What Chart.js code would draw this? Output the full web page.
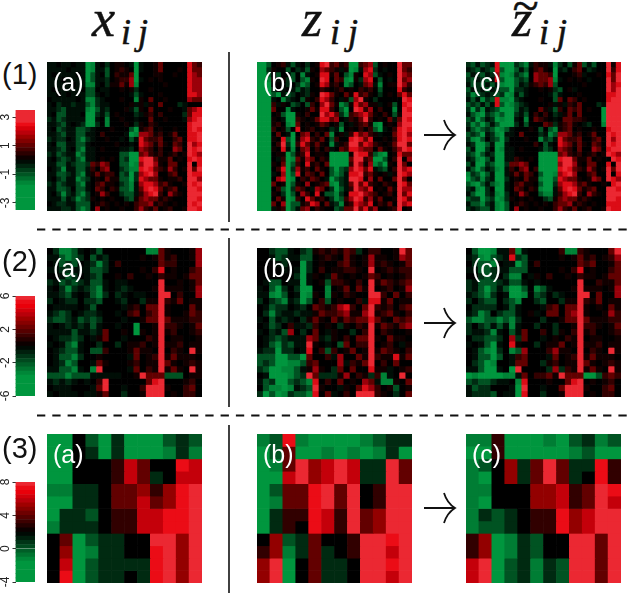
<!DOCTYPE html>
<html>
<head>
<meta charset="utf-8">
<style>
  body { margin: 0; background: #fff; }
  #page { position: relative; width: 633px; height: 597px; overflow: hidden; }
  #page canvas, #page svg { position: absolute; }
  .txt { position: absolute; line-height: 1; white-space: pre; }
  .math { font-family: "Liberation Serif", serif; font-style: italic; color: #111; -webkit-text-stroke: 0.5px #111; }
  .tag { font-family: "Liberation Sans", sans-serif; font-size: 25px; color: #fff; }
  .num { font-family: "Liberation Sans", sans-serif; font-size: 29px; color: #111; }
</style>
<script src="https://cdn.jsdelivr.net/npm/chart.js@4"></script>
</head>
<body>
<div id="page"></div>
<script>
// row 1 values are stored in half units, so 6 means 3 on the colour bar
const x1 = [
[-1,-1,0,-1,-1,0,-1,-1,-5,-4,-1,0,-2,0,1,1,0,-1,-5,-1,0,0,1,3,0,0,0,0,0,5,3,2],
[-1,-1,-1,-1,0,-1,-1,-1,-5,-4,-1,-1,-3,0,1,2,1,0,-5,-1,0,0,1,3,0,0,0,1,0,5,3,3],
[-1,0,-1,-1,-1,-1,0,-1,-5,-3,-1,0,-3,0,2,1,1,3,-5,0,0,0,1,1,0,0,1,0,0,5,4,3],
[-1,-1,-1,0,-1,-1,-1,-1,-5,-3,-1,-1,-2,0,1,2,2,4,-5,-1,0,1,0,1,0,0,0,0,0,5,4,4],
[-1,-1,-1,-1,-1,0,-1,-1,-4,-4,-1,0,-2,1,1,3,1,4,-4,0,0,0,0,0,1,0,0,0,0,5,4,4],
[-1,0,-1,-1,-1,-1,-1,0,-3,-3,0,-1,-1,0,0,1,0,1,-2,0,0,1,0,0,0,0,0,0,0,5,4,4],
[-1,-1,0,-1,0,-1,-1,-1,-3,-3,-1,0,-1,0,0,0,0,-1,-3,-1,0,0,0,1,0,0,0,0,0,5,5,4],
[0,-1,-1,-1,-1,-1,0,-1,-4,-4,-2,-1,0,0,0,1,0,0,-4,1,0,3,0,0,1,0,0,0,0,4,3,3],
[-1,0,-2,-1,-1,-2,-1,-1,-3,-4,-2,-1,-1,0,0,0,0,1,-1,1,-1,1,0,3,0,0,0,-2,-1,0,0,0],
[-1,-1,-2,-3,-1,-1,-1,-1,-4,-5,-3,-1,-2,0,0,0,1,-1,-3,1,0,3,0,0,0,1,0,0,-1,3,4,5],
[-1,0,-3,-3,-1,-1,-1,0,-5,-5,-2,-1,-3,0,1,0,0,0,-2,-1,1,2,0,2,0,0,0,0,-2,3,5,5],
[-2,-1,-3,-2,-1,-1,-1,-1,-5,-5,-1,0,-4,0,0,1,0,0,-1,0,0,3,0,0,1,0,0,0,-1,4,5,6],
[-1,-1,-2,-3,-1,0,-1,-2,-5,-5,-2,0,-4,0,0,0,1,0,-2,1,0,2,1,0,0,0,0,0,0,5,6,6],
[-1,0,-3,-2,-1,-1,-3,-3,-2,-1,0,0,0,1,0,0,0,-3,-5,1,2,3,0,1,0,0,1,0,0,5,6,5],
[-1,-1,-2,-3,-1,-1,-3,-3,-1,-1,0,2,0,0,0,0,-1,-5,-4,4,4,3,1,2,0,1,3,0,0,5,5,6],
[-2,-1,-2,-2,0,-1,-3,-4,-2,-1,0,0,1,0,0,-1,0,-3,-1,5,3,2,2,3,0,0,2,3,0,5,5,6],
[-1,0,-3,-3,-1,-1,-3,-3,-1,0,0,0,0,0,1,0,0,-1,0,5,4,3,1,3,1,0,3,2,0,6,4,5],
[-1,-1,-2,-3,-1,0,-3,-4,-1,-1,0,1,0,0,0,-1,-1,-2,0,4,3,2,0,2,0,0,4,3,0,6,5,6],
[-2,-1,-3,-2,-1,-1,-4,-3,-1,-1,0,0,0,0,0,-3,-3,-5,-5,3,4,2,1,2,0,1,2,0,1,6,5,4],
[-1,0,-2,-3,-2,-1,-3,-4,-1,-1,0,1,0,1,0,-3,-2,-5,-5,5,6,6,3,1,1,3,0,1,0,5,6,5],
[-1,-1,-3,-3,-1,-2,-3,-3,-2,3,2,4,3,0,0,-3,-3,-5,-4,4,6,6,4,1,0,3,3,0,0,6,0,5],
[0,-1,-2,-4,-1,-1,-3,-3,-1,2,0,3,4,0,0,-2,-3,-4,-4,5,6,5,3,2,1,4,2,0,1,6,3,6],
[-1,-1,-3,-3,-2,-1,-3,-4,-1,1,3,1,2,2,0,-3,-2,-5,-2,4,5,6,4,0,0,2,3,0,0,6,5,5],
[-1,0,-2,-3,-1,-1,-4,-3,-2,0,1,0,3,1,1,-3,-3,-5,-2,5,4,3,3,1,0,1,1,2,0,6,6,4],
[-2,-1,-3,-2,-1,-1,-3,-4,-1,0,2,3,1,1,0,-2,-3,-4,-1,4,5,5,4,2,3,1,0,0,1,6,5,6],
[-1,-1,-3,-3,-2,0,-3,-3,-1,0,3,2,0,2,1,-3,-3,-4,-1,3,5,6,5,3,1,2,3,0,0,6,6,5],
[-1,0,-2,-4,-2,-1,-3,-4,-2,0,1,4,2,0,0,-2,-3,-3,-1,2,4,5,6,2,0,4,2,1,0,6,6,6],
[-1,-1,-1,-3,-1,-2,-4,-3,-2,1,0,1,0,1,0,0,-2,-3,1,3,4,3,3,1,2,1,0,0,0,6,6,5],
[0,-1,-2,-2,-1,-1,-3,-3,-3,0,1,2,1,0,1,0,1,0,2,3,3,4,1,2,1,0,1,0,0,6,5,6],
[-1,-1,-1,-2,-2,-1,-3,-4,-3,0,4,0,1,0,0,1,0,0,2,4,2,1,3,0,1,2,0,0,1,6,6,5]
];
const z1 = [
[-6,-6,-3,0,1,2,-1,-3,-1,0,-2,0,1,5,6,2,3,1,2,-5,-5,2,3,4,-3,0,1,0,0,6,3,3],
[-6,-6,-2,1,0,0,-3,0,-2,-1,-3,1,0,4,3,2,1,-1,1,-5,-4,-1,4,5,-2,0,-1,0,0,6,3,2],
[-6,-6,-3,0,-3,0,0,-3,0,-4,-1,0,1,5,5,1,3,0,-3,-4,1,0,5,4,-3,-1,0,1,0,6,4,3],
[-6,-6,-4,1,-1,1,-2,-3,0,-3,-4,1,0,6,5,0,3,2,-4,-5,1,-2,4,5,0,-3,0,-1,0,6,3,4],
[-6,-6,-5,0,0,0,-2,0,-2,-4,-3,0,1,5,4,1,2,0,-4,-3,0,-1,3,4,-1,-4,0,1,1,6,4,2],
[-6,-6,-6,-2,0,-1,0,-1,-3,-1,-2,0,0,2,1,0,1,2,0,1,0,2,1,2,0,-3,0,0,0,5,2,1],
[-6,-6,-6,-3,-5,-1,-3,-2,0,-1,-2,1,0,6,5,3,1,0,3,1,5,2,3,1,0,-2,0,1,0,3,5,3],
[-6,-6,-5,-1,0,-4,-2,-1,0,-3,1,0,2,5,4,2,0,-1,1,-3,4,6,1,0,-2,0,0,0,0,0,6,5],
[-6,-6,-5,2,-1,1,0,-3,-2,0,-3,2,0,4,6,3,1,-4,-3,1,5,3,4,1,1,-1,0,1,-3,0,5,6],
[-6,-6,-6,3,0,0,-4,-1,0,0,1,3,1,5,5,2,0,-3,-5,0,6,5,2,4,0,2,0,0,-4,0,6,5],
[-6,-6,-6,0,1,-3,-5,-5,1,0,2,0,0,6,4,5,3,-2,-4,2,3,4,5,3,1,0,2,0,-3,1,6,6],
[-6,-6,-6,1,0,-1,-6,-5,2,1,0,1,3,5,5,3,4,0,-1,2,1,3,6,2,0,1,0,3,-1,3,6,5],
[-6,-6,-6,1,2,0,-4,-5,3,0,1,0,1,3,2,0,1,-3,0,-1,1,2,3,1,-4,-5,0,1,0,4,6,6],
[-5,-6,-6,2,0,1,-3,0,5,0,1,2,0,1,0,-2,-1,-4,0,1,0,2,0,2,-3,-5,-1,0,2,5,6,5],
[-6,-5,-6,0,3,0,-1,-5,0,3,4,0,2,0,3,-4,0,1,-1,2,5,3,4,2,1,-1,0,0,3,5,6,4],
[-6,-6,-6,1,0,5,-3,-5,1,4,5,2,1,3,0,-3,2,0,0,5,6,5,3,5,0,0,1,0,2,5,6,5],
[-5,-6,-6,0,2,6,-2,-5,2,5,3,1,3,1,0,-4,-1,1,2,6,6,3,5,4,2,1,0,1,3,6,6,3],
[-6,-6,-5,1,0,5,-1,-4,0,3,4,0,2,0,2,-1,0,3,2,5,5,4,3,3,0,3,1,0,2,4,6,5],
[-6,-6,-6,0,1,1,-6,-3,1,2,5,0,1,1,0,-6,-6,-6,-6,1,6,5,5,2,-3,-4,-5,0,1,5,3,3],
[-6,-6,-6,0,-1,2,-6,-4,3,1,4,3,0,2,1,-5,-6,-6,-5,3,6,6,2,3,-5,-6,-3,0,2,6,0,4],
[-6,-5,-6,1,0,3,-6,-3,2,0,5,1,2,0,3,-6,-5,-6,-6,2,6,4,1,4,-4,-3,-5,1,0,6,3,0],
[-6,-6,-6,0,2,5,-6,-2,4,1,2,0,3,1,0,-3,-5,-3,-2,4,6,5,3,5,-1,-2,-3,0,2,6,4,5],
[-5,-6,-6,-1,0,4,-6,-3,5,0,3,2,0,3,0,-3,-4,-3,-1,5,5,6,2,3,1,0,1,-1,1,6,5,4],
[-6,-6,-5,0,4,5,-6,-4,0,2,1,3,2,0,-1,-5,-3,-2,-1,6,6,5,1,4,0,3,0,0,3,6,3,0],
[-6,-6,-6,3,0,1,-6,-3,1,0,4,0,1,2,3,-4,-5,-2,-1,3,6,3,5,2,1,0,2,1,0,6,5,3],
[-6,-5,-6,0,2,-3,-6,-2,3,2,0,-1,4,3,0,-2,-5,-3,-1,2,6,4,3,5,0,1,0,3,1,6,4,4],
[-6,-6,-6,1,0,-2,-6,-3,0,4,2,0,5,0,-3,-3,-4,-2,0,5,5,6,4,3,2,0,1,2,0,6,3,5],
[-6,-6,-5,0,3,1,-6,-4,2,0,5,3,1,2,0,-2,-4,-3,2,4,6,5,2,4,1,3,0,0,1,6,5,3],
[-5,-6,-6,3,0,4,-6,-3,-3,1,2,5,4,0,3,-1,-2,-4,1,2,5,4,3,5,0,2,1,3,0,6,4,5],
[-6,-6,-6,-1,1,2,-6,-3,-1,3,4,0,2,1,0,0,-3,-2,3,3,6,3,5,2,4,0,0,1,2,6,0,1]
];
const zt1 = [
[-2,-3,-1,-3,-2,-1,5,-5,-5,-5,-2,-3,-4,-1,2,1,1,-1,-4,-2,0,-3,1,3,-3,-1,-3,0,0,6,1,5],
[-1,-2,-3,-1,-2,-3,5,-3,-6,-5,-3,-1,-3,0,2,3,1,0,-5,-1,-2,0,2,3,0,-2,-1,0,0,6,2,5],
[-3,-1,-2,-3,-1,-2,4,-4,-6,-4,-2,-3,-4,0,4,3,3,2,-5,0,0,0,1,2,-1,0,0,1,0,5,3,6],
[-2,-3,-1,-2,-3,-1,5,-3,-6,-5,-3,-2,-3,0,4,3,3,4,-4,-1,0,1,0,1,0,-1,0,0,0,6,3,6],
[-1,-3,-2,-3,-1,-3,-1,-4,-5,-6,-3,-1,-2,1,2,3,2,4,-3,0,0,0,0,0,1,0,0,0,0,6,4,5],
[-3,-1,-2,-1,-3,-1,-2,-3,-3,-5,-2,-2,-1,0,0,1,0,1,-2,-3,0,1,-1,0,0,0,0,0,0,6,4,6],
[-2,-4,-3,-2,-1,-2,-3,-2,-5,-4,-1,-3,-1,0,0,0,0,-1,-3,-1,0,0,0,1,0,0,0,0,0,5,5,6],
[-1,-3,-1,-4,-2,-3,5,-4,-4,-5,-2,-1,0,0,0,1,0,0,-3,3,0,3,2,0,1,0,0,0,0,5,6,6],
[-3,-2,-3,-1,-3,-1,5,-3,-5,-4,-3,-2,-1,0,0,0,0,1,-1,1,-1,2,1,3,0,0,0,-2,-1,6,6,6],
[-2,-5,-2,-4,-1,-2,-3,-5,-5,-6,-3,-1,-2,0,0,3,1,-1,-3,2,0,3,2,3,0,1,0,0,-5,6,6,6],
[-1,-3,-4,-5,-2,-3,-4,-3,-6,-6,-2,-1,-3,0,2,0,2,0,-2,-1,1,3,0,3,0,0,0,0,-5,6,6,6],
[-3,-2,-5,-3,-1,-2,-5,-4,-5,-6,-1,0,-4,0,3,2,1,0,-1,0,3,3,2,2,1,0,0,0,-5,6,6,6],
[-2,-4,-3,-5,-3,-1,-3,-5,-6,-5,-2,0,-3,0,0,0,3,2,-2,1,2,3,1,0,-1,-2,0,0,-4,6,6,6],
[-1,-3,-4,-3,-2,-3,-5,-4,-3,-1,0,0,0,1,0,-3,0,-3,-4,1,2,3,0,1,0,0,1,0,0,5,6,6],
[-3,-2,-3,-5,-1,-2,-4,-5,-1,-1,0,3,0,0,0,-2,-1,-4,-3,4,4,3,1,2,0,1,3,0,0,6,5,6],
[-2,-4,-5,-3,0,-2,-3,-6,-2,0,0,0,1,0,0,-4,-2,-3,-1,5,3,2,2,3,0,0,2,3,0,6,4,6],
[-1,-2,-6,-5,-3,-1,-5,-5,-1,0,0,0,0,0,2,0,-3,-1,0,5,4,3,1,3,1,0,3,2,0,6,5,6],
[-3,-1,-5,-6,-2,0,-6,-4,-1,-1,0,1,0,0,0,-1,-3,-2,0,4,3,2,0,3,0,0,4,3,0,5,6,6],
[-2,-3,-5,-3,-1,-2,-5,-5,-1,-1,0,0,0,0,0,-5,-5,-6,-6,3,4,2,1,2,0,1,2,0,1,6,5,4],
[-1,-2,-4,-6,-3,-1,-6,-5,-1,-1,2,1,0,1,0,-5,-6,-6,-6,5,6,6,3,1,1,3,0,1,0,0,6,5],
[-3,-1,-6,-5,-2,-3,-5,-6,-2,3,3,4,3,0,0,-6,-5,-6,-6,4,6,6,4,1,0,3,3,0,0,5,0,6],
[-1,-3,-5,-3,-1,-2,-4,-5,-1,2,0,3,4,0,2,-5,-6,-5,-6,5,6,5,3,2,1,4,2,0,1,6,3,6],
[-4,-2,-3,-5,-3,-1,-5,-6,-1,1,3,1,3,2,0,-3,-5,-6,-4,4,5,6,4,0,0,2,3,0,0,6,0,5],
[-6,-3,-2,-4,-2,-1,-6,-5,-2,0,1,0,3,1,1,-4,-5,-6,-3,5,4,3,3,1,0,1,4,3,0,6,5,4],
[-3,-4,-5,-3,-1,-3,-4,-6,-1,0,2,3,1,1,0,-3,-5,-5,-2,4,5,5,4,2,3,1,0,0,1,0,5,6],
[-2,-1,-4,-5,-2,0,-5,-5,-1,0,3,2,0,2,1,-4,-5,-5,-1,3,5,6,5,3,1,2,3,0,0,6,6,5],
[-1,-3,-5,-6,-2,-1,-4,-6,-2,0,1,4,2,0,0,-3,-4,-4,-1,2,4,5,6,2,0,4,2,1,0,6,6,6],
[-3,-2,-2,-5,-3,-2,-5,-4,-2,1,0,1,0,1,0,0,-2,-3,1,3,4,3,3,1,2,1,0,0,0,6,6,5],
[-1,-3,-3,-4,-2,-1,-4,-5,-3,0,1,2,1,0,1,0,1,0,2,3,3,4,1,2,1,0,1,0,0,5,5,5],
[-2,-1,-2,-3,-3,-1,-4,-5,-3,0,4,0,1,0,0,1,0,0,2,4,2,1,3,0,1,2,0,0,1,6,5,5]
];
const x2 = [
[0,-2,-4,-4,-3,-1,0,-1,-3,0,0,0,0,0,0,0,-4,-4,3,1,0,0,0,1,4],
[-1,-1,-3,-4,-3,-2,0,-3,-1,-2,0,0,0,0,0,1,0,1,3,1,2,0,0,1,4],
[0,-1,-3,-2,-3,0,-1,-2,-4,-2,0,2,0,0,0,0,0,0,3,2,2,0,0,0,4],
[-1,-1,-2,-2,-1,-1,-1,-3,-3,-2,0,0,0,0,0,1,0,2,5,0,1,0,0,2,3],
[0,0,-1,-3,-2,0,-1,-2,-3,0,0,1,0,2,0,0,1,0,2,1,1,0,1,3,3],
[-2,-1,-3,-2,-3,-2,-1,-3,-3,-1,0,-1,-1,0,0,0,0,0,6,0,0,1,0,1,3],
[-1,0,-2,-4,-2,-1,-2,-3,-4,-1,0,-1,-2,-1,0,0,0,1,6,1,1,1,0,1,4],
[-1,-1,-2,-3,-1,0,-1,-3,-4,-2,0,-2,-1,0,-1,-1,0,0,6,6,0,2,0,0,4],
[-2,0,-1,-2,-2,0,-2,-2,-3,0,0,-1,-2,0,0,-2,1,1,6,2,1,3,0,1,1],
[0,-1,-1,-1,-1,0,-1,-3,0,0,0,0,-1,1,2,0,3,3,6,1,0,0,0,3,1],
[-1,-2,-3,-2,0,-1,-2,-2,-1,0,0,-1,0,2,3,0,2,3,6,1,0,0,1,3,2],
[-2,-3,-3,-2,-1,-3,-2,-3,-2,0,0,0,-1,0,0,1,3,3,6,3,1,1,1,2,2],
[-1,0,-1,-2,-1,-2,-1,-3,-1,0,0,-1,0,0,-5,0,0,1,6,2,2,1,0,1,3],
[-1,-1,-1,-1,-3,-1,-1,-2,-1,3,0,0,1,0,-5,1,0,1,6,1,2,0,0,1,2],
[0,-1,-2,-2,-3,-2,0,-1,1,3,0,0,-1,0,0,0,2,1,6,0,1,1,0,0,1],
[-1,0,-1,-3,-4,-1,0,0,-2,0,0,-2,0,1,1,2,0,1,6,1,1,2,0,1,1],
[0,-1,-2,-3,-3,-1,0,-3,-3,2,0,0,0,1,3,1,1,0,6,0,2,1,0,6,1],
[0,-1,-3,-3,-4,-2,0,0,1,0,0,0,0,-1,3,0,1,2,6,1,3,1,1,1,0],
[0,-1,-2,-4,-3,0,0,-1,3,1,0,0,0,1,2,0,1,1,6,3,1,0,1,2,1],
[-1,-1,-3,-3,-4,-1,0,-4,6,0,0,0,0,-1,3,0,2,1,6,1,3,1,0,6,1],
[-3,-3,-3,-4,-3,-3,-3,-1,-1,-1,-1,-1,0,0,1,6,3,3,3,-3,-3,-3,0,1,1],
[-1,-2,-1,-2,-1,0,-1,0,2,6,0,0,0,0,0,0,3,5,6,0,0,0,1,2,0],
[0,-1,-1,-1,0,0,0,-1,3,6,0,0,-1,0,0,2,6,6,6,1,0,0,2,3,0],
[-1,0,-1,-1,-1,0,-1,-1,1,3,0,0,-2,0,0,1,6,6,6,0,1,0,2,2,0]
];
const z2 = [
[0,0,-2,-3,-3,-1,0,-2,-3,1,2,1,2,1,3,2,-2,0,2,2,0,0,1,6,3],
[0,0,-1,-3,-2,-1,-1,-3,-3,0,1,2,1,0,3,1,0,1,4,1,1,0,1,4,3],
[0,0,0,-1,-2,0,0,-5,-2,0,1,0,0,2,3,1,0,1,4,1,2,1,0,1,3],
[0,0,0,0,-1,0,-1,-5,-2,0,2,0,1,1,2,2,1,0,6,0,1,2,1,2,2],
[0,0,0,0,0,0,-2,-5,-1,1,0,-1,3,1,0,1,0,1,3,2,0,1,0,1,2],
[0,-1,-3,-3,0,-1,-1,-5,-1,0,1,-3,2,2,1,0,2,0,6,1,3,2,1,2,3],
[-1,0,-3,-5,-2,0,-2,-6,-5,0,0,-4,0,1,3,0,3,1,6,0,1,2,0,1,4],
[-1,-1,-4,-5,-3,0,-1,-6,-4,1,0,-4,1,0,2,1,0,0,6,6,2,0,3,0,2],
[-2,0,-2,-3,-4,-1,-2,-5,-3,0,2,-3,0,1,0,0,2,-1,5,5,1,3,0,1,1],
[0,-1,-3,-2,-2,0,-1,-2,0,3,2,1,2,4,5,2,0,3,6,2,1,2,0,2,3],
[0,-2,-4,-2,-1,-1,-2,-1,-1,1,3,2,2,3,4,1,1,4,6,1,2,3,1,0,2],
[-1,0,-3,-1,-2,-1,0,-2,1,3,1,0,3,1,3,2,3,3,5,3,1,0,3,2,3],
[0,-1,-3,-2,0,2,-1,-1,-2,2,0,1,0,-2,1,0,2,1,6,1,3,2,1,3,4],
[-1,0,-2,-1,-3,4,0,-2,0,3,0,-1,1,0,0,-2,0,2,6,0,2,1,0,0,1],
[0,-1,-2,-3,-2,-1,-1,-1,4,3,-1,-2,1,0,2,0,3,3,6,1,0,3,1,1,0],
[0,-1,-3,-4,-2,-3,-1,-1,6,1,0,-1,0,-3,3,0,2,2,6,0,1,2,0,-1,1],
[-1,-2,-2,-5,-2,-2,0,-1,5,0,2,-3,2,0,1,3,0,1,6,1,3,2,1,0,2],
[-3,-3,-3,-6,-5,-3,-3,-5,3,0,0,2,-1,4,0,0,3,1,6,2,1,1,5,1,3],
[-3,-2,-3,-6,-5,-4,-4,-3,2,3,0,0,0,4,-1,2,1,3,6,0,2,0,3,0,0],
[-2,-3,-5,-6,-4,-4,-3,-1,1,4,1,0,-2,3,0,3,0,0,5,1,1,-1,0,1,2],
[0,-1,-5,-6,-6,-4,-3,-2,6,3,-2,-2,-2,1,4,0,2,1,-2,2,-4,-1,0,6,0],
[-1,-3,-2,-5,-6,-3,-2,-3,-4,5,0,2,0,3,0,1,0,4,3,-1,-4,-4,1,0,3],
[0,-3,-4,-4,-5,-4,-1,-2,-3,6,1,0,0,-1,1,0,3,5,4,2,0,1,-3,0,1],
[-2,-5,-3,-6,-4,-2,-3,-3,-4,5,0,3,-1,0,2,0,6,6,6,2,1,0,-2,0,3]
];
const zt2 = [
[0,-3,-5,-5,-4,-1,-1,3,-4,-1,0,0,0,0,0,2,-4,-4,2,1,0,0,0,3,6],
[-1,-2,-4,-5,-3,-2,-1,5,-2,-3,0,0,0,0,0,1,0,1,3,1,2,0,1,2,4],
[0,-2,-3,-3,-4,0,-1,-1,-5,-3,0,2,0,0,0,0,0,0,3,2,3,0,0,1,3],
[-1,-1,-3,-3,-2,-1,-1,-3,-3,-3,0,0,0,0,0,1,0,2,5,0,1,0,0,2,3],
[0,0,-2,-3,-2,0,-2,-4,-4,0,-1,1,0,2,0,0,1,0,2,1,1,0,1,3,3],
[-2,-1,-3,-3,-3,-2,-1,-3,-3,-1,0,-1,0,0,0,0,0,0,6,0,0,2,1,1,3],
[-2,-1,-3,-5,-3,-1,-3,-5,-6,-3,0,-4,-3,-1,0,0,0,1,6,1,1,1,0,1,4],
[-1,-2,-3,-4,-2,0,-1,-5,-6,-4,0,-3,-2,0,-2,-1,0,0,6,6,0,3,0,0,4],
[-2,0,-2,-3,-3,0,-2,-3,-4,0,0,-2,-3,0,0,-2,1,1,6,2,1,3,0,1,1],
[0,-2,-2,-2,-2,0,-1,-3,-1,0,0,0,-1,2,3,0,3,3,6,1,0,1,0,3,1],
[-1,-2,-4,-3,0,-2,-3,-3,-1,0,1,-1,0,3,3,0,3,4,6,1,0,0,1,4,2],
[-3,-4,-4,-3,-3,-4,-3,-4,-2,0,0,0,-2,0,0,1,3,3,6,3,1,1,1,2,2],
[-2,0,-2,-3,-1,-3,-1,-4,-1,0,0,-2,0,0,-2,0,0,1,6,2,2,1,0,1,3],
[-2,-1,-1,-2,-4,-1,0,-3,-1,3,0,0,2,0,-2,1,0,2,6,1,2,0,0,1,2],
[0,-2,-2,-3,-3,-2,0,4,-2,3,0,0,-1,0,1,0,2,1,6,0,1,1,0,0,1],
[-1,0,-1,-3,-5,-1,0,5,1,0,0,-2,0,1,1,3,0,1,6,1,1,2,0,1,1],
[0,-1,-3,-4,-6,-2,0,-4,-3,4,0,0,0,2,4,1,1,0,6,0,2,1,0,6,1],
[0,-1,-3,-3,-5,-3,0,-1,2,3,0,0,0,-1,3,0,1,2,6,1,3,1,1,1,0],
[0,-2,-3,-5,-4,0,0,-1,3,3,0,0,-2,1,2,0,1,1,6,3,1,0,1,2,1],
[-1,-1,-3,-5,-5,-1,0,-5,6,0,0,0,0,-2,4,-2,2,1,6,1,3,1,0,6,1],
[-5,-4,-5,-5,-6,-5,-4,-4,-1,3,0,2,2,3,1,6,3,3,3,-5,-5,-3,2,3,2],
[-3,-2,-3,-3,-2,-1,-1,0,-4,5,0,0,0,1,0,0,3,5,6,0,1,0,1,2,0],
[-1,-3,-2,-2,0,0,0,-1,-5,6,0,0,-1,0,0,3,6,6,6,1,0,0,2,3,0],
[-1,-2,-2,-2,-3,0,-1,-1,-5,5,0,0,-2,0,0,1,6,6,6,0,1,0,2,2,0]
];
const x3 = [
[-3,-3,2,0,-2,1,-3,-3,-3,0,1,0],
[-3,-3,2,1,-2,1,-3,-3,-3,-1,1,-1],
[-2,-3,2,2,2,3,6,4,2,2,7,6],
[-2,-3,2,2,2,3,6,4,1,2,6,6],
[-1,-1,1,1,2,4,4,5,3,5,7,8],
[-2,-2,1,1,2,4,4,6,4,5,7,8],
[-2,1,1,0,2,3,3,6,6,7,7,8],
[-1,1,1,1,2,3,3,6,6,7,7,8],
[2,4,-3,0,1,1,2,2,8,8,5,8],
[2,5,-3,-1,1,1,2,2,7,8,5,8],
[2,6,-3,0,1,1,1,1,7,8,5,8],
[2,7,-3,0,1,1,2,1,7,8,5,8]
];
const z3 = [
[-1,0,7,-1,-2,-2,-2,-2,-1,0,1,1],
[-2,0,4,-2,-2,-1,-2,-1,-2,-1,1,-2],
[-2,-1,4,8,5,6,8,6,1,1,8,4],
[-2,-2,6,8,5,6,8,6,1,1,8,4],
[-2,0,4,4,7,8,4,8,2,3,8,8],
[-2,-1,4,4,7,8,4,8,2,3,8,8],
[-2,1,3,3,7,6,3,8,4,5,8,8],
[-2,1,3,2,7,6,3,8,4,5,8,8],
[2,5,0,1,4,2,2,3,8,8,7,8],
[3,5,-1,1,4,1,2,3,8,8,6,8],
[5,8,-2,2,4,1,1,2,8,8,7,8],
[5,8,-2,2,4,1,1,2,8,8,6,8]
];
const zt3 = [
[-1,-1,3,-2,-2,-2,-1,-2,0,1,-1,0],
[-2,-2,3,-2,-2,-2,-2,-2,-1,0,-2,-2],
[-1,0,2,5,1,4,8,4,1,1,7,3],
[-1,-2,2,5,1,4,8,4,1,2,7,3],
[-1,-1,2,2,2,5,5,6,3,4,8,7],
[-1,-2,2,2,2,5,5,6,3,4,8,6],
[-1,1,0,1,2,3,3,7,5,6,8,8],
[-1,0,0,1,2,3,3,7,5,6,8,8],
[3,5,-2,-1,1,0,2,2,8,8,4,8],
[3,5,-2,-1,1,0,2,2,8,8,4,8],
[6,8,-2,0,1,-1,1,0,8,8,4,8],
[6,8,-2,0,1,-1,1,0,8,8,4,8]
];
const barTicks1 = [3, 1, -1, -3];
const barTicks2 = [6, 2, -2, -6];
const barTicks3 = [8, 4, 0, -4];

const page = document.getElementById("page");

function colour(v, mid, half, gamma) {
  const t = (v - mid) / half;
  const s = Math.pow(Math.abs(t), gamma);
  if (t >= 0) {
    const r = Math.round(235 * Math.min(1, s / 0.8));
    const light = t > 0.9 ? 40 : t > 0.8 ? 12 : 0;
    return `rgb(${r},${light},${light + (t > 0.6 ? 10 : 0)})`;
  }
  const a = Math.min(1, s / 0.6);
  return `rgb(0,${Math.round(150 * a)},${Math.round(62 * a)})`;
}

function addCanvas(left, top, w, h) {
  const c = document.createElement("canvas");
  c.width = w;
  c.height = h;
  c.style.left = left + "px";
  c.style.top = top + "px";
  c.style.width = w + "px";
  c.style.height = h + "px";
  page.appendChild(c);
  return c.getContext("2d");
}

// each row of cells is one dataset of floating bars on a shared y scale
function heatmap(left, top, rows, mid, gamma) {
  new Chart(addCanvas(left, top, 155, 149), {
    type: "bar",
    data: {
      labels: rows[0].map((_, i) => i),
      datasets: rows.map((row, r) => ({
        data: row.map(() => [r, r + 1]),
        backgroundColor: row.map((v) => colour(v, mid, 6, gamma)),
        barPercentage: 1,
        categoryPercentage: 1,
        grouped: false,
      })),
    },
    options: {
      responsive: false,
      animation: false,
      events: [],
      scales: {
        x: { display: false },
        y: { display: false, min: 0, max: rows.length, reverse: true },
      },
      plugins: { legend: { display: false }, tooltip: { enabled: false } },
    },
  });
}

function colourBar(top, lo, hi, mid, half, ticks) {
  const steps = 24;
  const datasets = [];
  for (let i = 0; i < steps; i++) {
    const a = lo + ((hi - lo) * i) / steps;
    const b = lo + ((hi - lo) * (i + 1)) / steps;
    datasets.push({
      data: [[a, b]],
      backgroundColor: colour((a + b) / 2, mid, half, 1),
      barPercentage: 1,
      categoryPercentage: 1,
      grouped: false,
    });
  }
  new Chart(addCanvas(0, top - 10, 35, 120), {
    type: "bar",
    data: { labels: [""], datasets },
    options: {
      responsive: false,
      animation: false,
      events: [],
      layout: { padding: { top: 10, bottom: 10 } },
      scales: {
        x: { display: false },
        y: {
          min: lo,
          max: hi,
          afterFit: (s) => { s.width = 15.5; },
          afterBuildTicks: (s) => { s.ticks = ticks.map((value) => ({ value })); },
          grid: { drawOnChartArea: false, drawTicks: true, tickLength: 3, color: "#333" },
          border: { display: false },
          ticks: {
            minRotation: 90,
            maxRotation: 90,
            crossAlign: "center",
            padding: 1,
            color: "#222",
            font: { family: "Liberation Sans", size: 12 },
          },
        },
      },
      plugins: { legend: { display: false }, tooltip: { enabled: false } },
    },
  });
}

const panelLeft = [47, 257, 466];
const panelTop = [62, 248, 434];
[[x1, z1, zt1, 0, 1.6], [x2, z2, zt2, 0, 1.6], [x3, z3, zt3, 2, 1]].forEach((set, i) => {
  for (let j = 0; j < 3; j++) heatmap(panelLeft[j], panelTop[i], set[j], set[3], set[4]);
});
colourBar(110, -3.5, 3.5, 0, 3, barTicks1);
colourBar(296, -6, 6, 0, 6, barTicks2);
colourBar(482, -4, 8, 2, 6, barTicks3);

function label(cls, text, left, baseline, size) {
  const d = document.createElement("div");
  d.className = "txt " + cls;
  d.textContent = text;
  d.style.left = left + "px";
  if (size) d.style.fontSize = size + "px";
  page.appendChild(d);
  // place by baseline, the box is one line high
  const fs = parseFloat(getComputedStyle(d).fontSize);
  d.style.top = baseline - fs * 0.82 + "px";
}

["(1)", "(2)", "(3)"].forEach((t, i) => label("num", t, 2, [84, 271, 458][i]));
panelTop.forEach((top) => {
  ["(a)", "(b)", "(c)"].forEach((t, j) => label("tag", t, panelLeft[j] + 6, top + 28));
});

label("math", "x", 92, 36, 52);
label("math", "i", 121, 44, 36);
label("math", "j", 138, 44, 36);
label("math", "z", 302, 36, 52);
label("math", "i", 330, 44, 36);
label("math", "j", 348, 44, 36);
label("math", "z", 512, 36, 52);
label("math", "~", 512, 21, 48);
label("math", "i", 539, 44, 36);
label("math", "j", 557, 44, 36);

// separators and arrows
const ns = "http://www.w3.org/2000/svg";
const svg = document.createElementNS(ns, "svg");
svg.setAttribute("width", 633);
svg.setAttribute("height", 597);
svg.style.left = "0";
svg.style.top = "0";
let marks = "";
[[52, 222], [238, 407], [425, 593]].forEach(([a, b]) => {
  marks += `<line x1="229" y1="${a}" x2="229" y2="${b}" stroke="#111" stroke-width="1.6"/>`;
});
[229.5, 415.5].forEach((y) => {
  marks += `<line x1="37" y1="${y}" x2="633" y2="${y}" stroke="#111" stroke-width="2" stroke-dasharray="8.3 7"/>`;
});
[135, 323, 508].forEach((y) => {
  marks += `<path d="M424 ${y}H454M444 ${y - 15}Q447 ${y - 5} 455 ${y}Q447 ${y + 5} 444 ${y + 15}" fill="none" stroke="#111" stroke-width="1.8"/>`;
});
svg.innerHTML = marks;
page.appendChild(svg);
</script>
</body>
</html>
